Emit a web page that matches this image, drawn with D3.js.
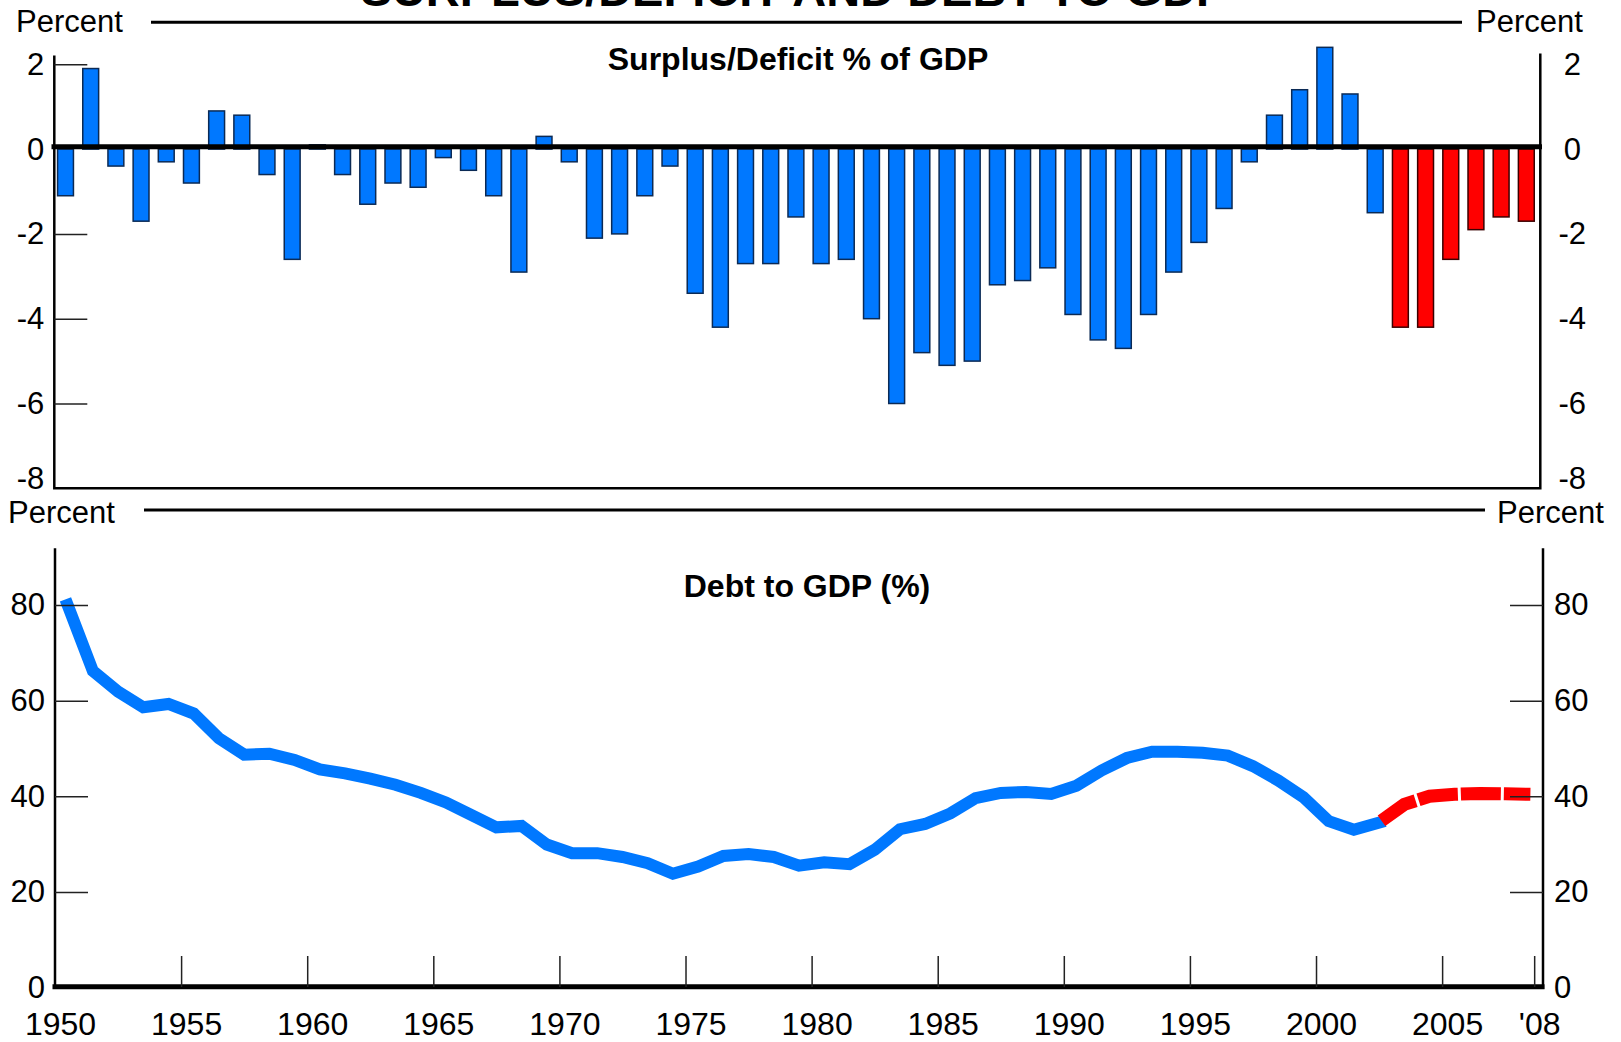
<!DOCTYPE html>
<html>
<head>
<meta charset="utf-8">
<script src="https://cdn.jsdelivr.net/npm/d3@7"></script>
<style>
  body { margin: 0; background: #fff; }
  text { font-family: "Liberation Sans", Arial, Helvetica, sans-serif; fill: #000; }
</style>
</head>
<body>
<svg id="chart" width="1621" height="1042"></svg>
<script>
// fiscal years shown in both panels
const years = d3.range(1950, 2009);

// surplus (+) / deficit (-) as % of GDP, 2003 on is the projection (red)
const surplus = [
  -1.1, 1.9, -0.4, -1.7, -0.3, -0.8, 0.9, 0.8, -0.6, -2.6,
  0.1, -0.6, -1.3, -0.8, -0.9, -0.2, -0.5, -1.1, -2.9, 0.3,
  -0.3, -2.1, -2.0, -1.1, -0.4, -3.4, -4.2, -2.7, -2.7, -1.6,
  -2.7, -2.6, -4.0, -6.0, -4.8, -5.1, -5.0, -3.2, -3.1, -2.8,
  -3.9, -4.5, -4.7, -3.9, -2.9, -2.2, -1.4, -0.3, 0.8, 1.4,
  2.4, 1.3, -1.5, -4.2, -4.2, -2.6, -1.9, -1.6, -1.7
];

// debt held by public as % of GDP
const debt = [
  80.0, 66.2, 61.9, 58.6, 59.3, 57.3, 52.1, 48.7, 48.9, 47.6,
  45.6, 44.8, 43.7, 42.4, 40.7, 38.7, 36.1, 33.5, 33.8, 29.9,
  28.1, 28.1, 27.3, 26.0, 23.8, 25.3, 27.5, 27.9, 27.3, 25.5,
  26.2, 25.8, 28.8, 33.1, 34.2, 36.4, 39.6, 40.7, 40.9, 40.5,
  42.2, 45.4, 48.0, 49.3, 49.3, 49.1, 48.5, 46.3, 43.3, 39.8,
  34.8, 33.0, 34.5, 38.3, 40.0, 40.4, 40.6, 40.5, 40.4
];

const firstProjectedBar = 2003;
const lastActualDebt = 2002;

const surplusTicks = [2, 0, -2, -4, -6, -8];
const debtTicks = [0, 20, 40, 60, 80];
const yearTicks = [1950, 1955, 1960, 1965, 1970, 1975, 1980, 1985, 1990, 1995, 2000, 2005, 2008.65];
const yearLabels = ['1950', '1955', '1960', '1965', '1970', '1975', '1980', '1985', '1990', '1995', '2000', '2005', "'08"];

const blue = '#0078ff';
const red = '#ff0000';
const fontSize = 31;

const svg = d3.select('#chart');

// ---------- headers ----------
svg.append('text')
  .attr('x', 794).attr('y', 6)
  .attr('text-anchor', 'middle')
  .style('font-size', '47px').style('font-weight', 'bold')
  .text('SURPLUS/DEFICIT AND DEBT TO GDP');

function header(y, ruleY, x1, x2, leftX, rightX) {
  svg.append('text').attr('x', leftX).attr('y', y)
    .style('font-size', fontSize + 'px').text('Percent');
  svg.append('text').attr('x', rightX).attr('y', y)
    .style('font-size', fontSize + 'px').text('Percent');
  svg.append('line')
    .attr('x1', x1).attr('x2', x2).attr('y1', ruleY).attr('y2', ruleY)
    .attr('stroke', '#000').attr('stroke-width', 3);
}
header(32, 22.3, 151, 1462, 16, 1476);
header(523, 510, 144, 1485, 8, 1497);

// ---------- top panel: surplus / deficit bars ----------
const xTop = d3.scaleLinear().domain([1950, 2009]).range([54.3, 1540.3]);
const yTop = d3.scaleLinear().domain([-8, 2]).range([488.3, 64.3]);

svg.append('g')
  .selectAll('rect')
  .data(years)
  .join('rect')
  .attr('x', d => xTop(d + 0.13))
  .attr('width', d => xTop(d + 0.76) - xTop(d + 0.13))
  .attr('y', (d, i) => yTop(Math.max(0, surplus[i])))
  .attr('height', (d, i) => Math.abs(yTop(surplus[i]) - yTop(0)))
  .attr('fill', d => d >= firstProjectedBar ? red : blue)
  .attr('stroke', d => d >= firstProjectedBar ? '#3a0000' : '#0b2a55')
  .attr('stroke-width', 1.5);

// zero line
svg.append('line')
  .attr('x1', 51.5).attr('x2', 1542)
  .attr('y1', yTop(0) - 2.3).attr('y2', yTop(0) - 2.3)
  .attr('stroke', '#000').attr('stroke-width', 5);

// frame
svg.append('path')
  .attr('d', `M${xTop(1950)},55.5 V${yTop(-8)} H${xTop(2009)} V53.5`)
  .attr('fill', 'none').attr('stroke', '#000').attr('stroke-width', 2.5);

svg.append('text')
  .attr('x', 798).attr('y', 70)
  .attr('text-anchor', 'middle')
  .style('font-size', '32px').style('font-weight', 'bold')
  .text('Surplus/Deficit % of GDP');

// plain hyphen minus like the original
const fmt = d => String(d);

const topLeft = svg.append('g')
  .attr('transform', `translate(${xTop(1950)},0)`)
  .call(d3.axisLeft(yTop).tickValues(surplusTicks).tickFormat(fmt)
    .tickSizeInner(-33).tickSizeOuter(0).tickPadding(10));

const topRight = svg.append('g')
  .attr('transform', `translate(${xTop(2009)},0)`)
  .call(d3.axisRight(yTop).tickValues(surplusTicks).tickFormat(fmt)
    .tickSize(0).tickPadding(32));
topRight.selectAll('text').attr('text-anchor', 'middle');

[topLeft, topRight].forEach(g => {
  g.select('.domain').remove();
  g.selectAll('.tick line').attr('stroke', '#222').attr('stroke-width', 1.5)
    .filter(d => d === 0 || d === -8).remove();
  g.selectAll('text').style('font-size', fontSize + 'px')
    .filter(d => d === -8).attr('y', -10);
});

// ---------- bottom panel: debt line ----------
const xBot = d3.scaleLinear().domain([1950, 2009]).range([55, 1543]);
const yBot = d3.scaleLinear().domain([0, 80]).range([987.5, 605]);

const line = d3.line()
  .x(d => xBot(d.year + 0.5))
  .y(d => yBot(d.value));

const debtData = years.map((y, i) => ({year: y, value: debt[i]}));

svg.append('path')
  .datum(debtData.filter(d => d.year <= lastActualDebt))
  .attr('d', line)
  .attr('fill', 'none')
  .attr('stroke', blue)
  .attr('stroke-width', 12)
  .attr('stroke-linecap', 'square');

svg.append('path')
  .datum(debtData.filter(d => d.year >= lastActualDebt))
  .attr('d', line)
  .attr('fill', 'none')
  .attr('stroke', red)
  .attr('stroke-width', 13)
  .attr('stroke-dasharray', '40 3')
  .attr('stroke-dashoffset', 40);

// frame
svg.append('line')
  .attr('x1', xBot(1950)).attr('x2', xBot(1950)).attr('y1', 548.3).attr('y2', 989)
  .attr('stroke', '#000').attr('stroke-width', 2.5);
svg.append('line')
  .attr('x1', xBot(2009)).attr('x2', xBot(2009)).attr('y1', 548.3).attr('y2', 989)
  .attr('stroke', '#000').attr('stroke-width', 2.5);
svg.append('line')
  .attr('x1', 52.5).attr('x2', 1544.5).attr('y1', 986.7).attr('y2', 986.7)
  .attr('stroke', '#000').attr('stroke-width', 5);

svg.append('text')
  .attr('x', 807).attr('y', 597)
  .attr('text-anchor', 'middle')
  .style('font-size', '32px').style('font-weight', 'bold')
  .text('Debt to GDP (%)');

const botLeft = svg.append('g')
  .attr('transform', `translate(${xBot(1950)},0)`)
  .call(d3.axisLeft(yBot).tickValues(debtTicks).tickSizeInner(-33).tickSizeOuter(0).tickPadding(10));

const botRight = svg.append('g')
  .attr('transform', `translate(${xBot(2009)},0)`)
  .call(d3.axisRight(yBot).tickValues(debtTicks).tickSizeInner(-33).tickSizeOuter(0).tickPadding(11));

[botLeft, botRight].forEach(g => {
  g.select('.domain').remove();
  g.selectAll('.tick line').attr('stroke', '#222').attr('stroke-width', 1.5)
    .filter(d => d === 0).remove();
  g.selectAll('text').style('font-size', fontSize + 'px');
});

const xAxis = svg.append('g')
  .attr('transform', 'translate(0,987)')
  .call(d3.axisBottom(xBot).tickValues(yearTicks).tickSizeInner(-31).tickSizeOuter(0).tickPadding(25)
    .tickFormat((d, i) => yearLabels[i]));
xAxis.select('.domain').remove();
xAxis.selectAll('.tick line').attr('stroke', '#222').attr('stroke-width', 1.5)
  .filter(d => d === 1950).remove();
xAxis.selectAll('text').style('font-size', '32px').attr('dx', 5);
</script>
</body>
</html>
